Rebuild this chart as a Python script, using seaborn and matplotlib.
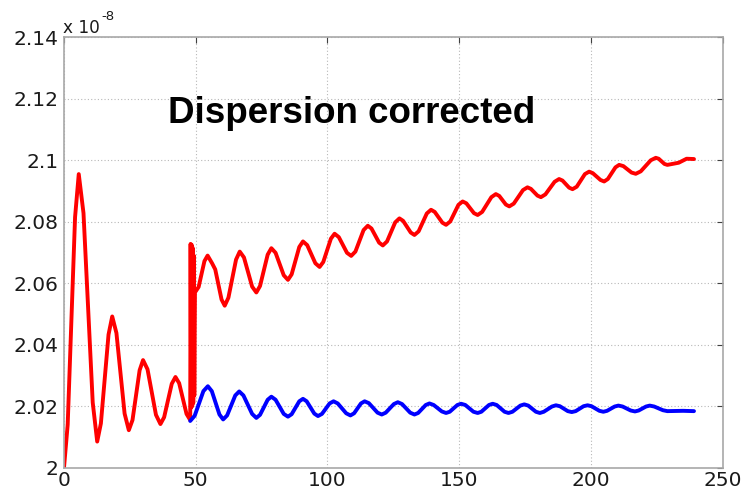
import pandas as pd
import matplotlib
matplotlib.use("Agg")
import matplotlib.pyplot as plt
from matplotlib.ticker import FormatStrFormatter, FixedLocator
import seaborn as sns

# Values are in units of 1e-8 (shown by the axis multiplier label)
red_x = [0, 1.4, 4.2, 5.6, 7.4, 10.9, 12.6, 14.0, 16.9, 18.3, 19.9, 23.0,
         24.6, 26.0, 28.7, 30.0, 31.7, 34.9, 36.6, 38.0, 40.9, 42.3, 43.7, 46.5,
         47.9, 48.05, 48.25, 48.45, 48.65, 48.85, 49.05, 49.25, 49.45, 49.7,
         51.1, 53.3, 54.5, 56.2, 57.4, 59.8, 61.0, 62.4, 65.3, 66.7, 68.3, 71.4,
         73.0, 74.4, 77.3, 78.7, 80.3, 83.4, 85.0, 86.4, 89.3, 90.7, 92.3, 95.4,
         97.0, 98.4, 101.3, 102.7, 104.3, 107.4, 109.0, 110.6, 113.7, 115.3,
         116.7, 119.6, 121.0, 122.6, 125.7, 127.3, 128.7, 131.6, 133.0, 134.6,
         137.7, 139.3, 140.7, 143.6, 145.0, 146.6, 149.7, 151.3, 152.7, 155.6,
         157.0, 158.7, 162.2, 163.9, 165.2, 167.7, 169.0, 170.7, 174.2, 175.9,
         177.2, 179.7, 181.0, 182.7, 186.2, 187.9, 189.2, 191.7, 193.0, 194.6,
         197.7, 199.3, 200.7, 203.6, 205.0, 206.4, 209.3, 210.7, 212.3, 215.4,
         217.0, 218.9, 222.7, 224.6, 225.7, 227.9, 229.0, 233.3, 236.3, 239.1]
red_y = [2.0000, 2.0140, 2.0815, 2.0955, 2.0828, 2.0212, 2.0085, 2.0144, 2.0433,
         2.0492, 2.0438, 2.0176, 2.0122, 2.0155, 2.0317, 2.0350, 2.0320, 2.0172,
         2.0142, 2.0164, 2.0273, 2.0295, 2.0275, 2.0175,
         2.0155, 2.0728, 2.0195, 2.0725, 2.0200, 2.0715, 2.0210, 2.0690, 2.0235,
         2.0570,
         2.0588, 2.0672, 2.0690, 2.0665, 2.0645, 2.0547, 2.0527, 2.0553, 2.0677,
         2.0703, 2.0684, 2.0589, 2.0570, 2.0591, 2.0693, 2.0714, 2.0699, 2.0626,
         2.0611, 2.0629, 2.0718, 2.0736, 2.0724, 2.0665, 2.0653, 2.0669, 2.0745,
         2.0761, 2.0750, 2.0699, 2.0689, 2.0703, 2.0773, 2.0787, 2.0778, 2.0732,
         2.0723, 2.0736, 2.0798, 2.0811, 2.0803, 2.0765, 2.0757, 2.0769, 2.0827,
         2.0839, 2.0832, 2.0797, 2.0790, 2.0801, 2.0855, 2.0866, 2.0860, 2.0828,
         2.0822, 2.0832, 2.0880, 2.0890, 2.0884, 2.0856, 2.0850, 2.0859, 2.0903,
         2.0912, 2.0907, 2.0885, 2.0880, 2.0889, 2.0930, 2.0939, 2.0934, 2.0911,
         2.0906, 2.0914, 2.0955, 2.0963, 2.0958, 2.0936, 2.0931, 2.0939, 2.0977,
         2.0985, 2.0981, 2.0960, 2.0956, 2.0964, 2.1000, 2.1008, 2.1005, 2.0988,
         2.0985, 2.0992, 2.1005, 2.1004]

blue_x = [47.9, 49.6, 52.9, 54.6, 56.1, 59.0, 60.4, 61.9, 65.0, 66.5, 68.1, 71.4,
          73.0, 74.4, 77.3, 78.7, 80.3, 83.4, 85.0, 86.4, 89.3, 90.7, 92.1, 95.0,
          96.4, 97.9, 100.8, 102.3, 103.9, 107.1, 108.7, 110.1, 112.7, 114.1,
          115.7, 119.0, 120.6, 122.1, 125.2, 126.7, 128.3, 131.4, 133.0, 134.4,
          137.3, 138.7, 140.3, 143.4, 145.0, 146.4, 149.3, 150.7, 152.3, 155.4,
          157.0, 158.4, 161.3, 162.7, 164.2, 167.2, 168.7, 170.2, 173.2, 174.7,
          176.2, 179.1, 180.6, 182.1, 185.2, 186.7, 188.2, 191.2, 192.7, 194.2,
          197.2, 198.7, 200.2, 203.2, 204.7, 206.1, 209.0, 210.4, 212.0, 215.1,
          216.7, 218.1, 220.9, 222.3, 224.0, 227.3, 229.0, 235.0, 239.1]
blue_y = [2.0152, 2.0169, 2.0249, 2.0265, 2.0249, 2.0173, 2.0157, 2.0170, 2.0235,
          2.0248, 2.0235, 2.0175, 2.0162, 2.0172, 2.0221, 2.0231, 2.0221, 2.0175,
          2.0166, 2.0174, 2.0216, 2.0224, 2.0216, 2.0176, 2.0168, 2.0175, 2.0209,
          2.0216, 2.0209, 2.0177, 2.0170, 2.0177, 2.0209, 2.0216, 2.0210, 2.0179,
          2.0173, 2.0179, 2.0207, 2.0213, 2.0207, 2.0179, 2.0173, 2.0178, 2.0204,
          2.0209, 2.0204, 2.0183, 2.0178, 2.0182, 2.0204, 2.0208, 2.0204, 2.0182,
          2.0178, 2.0182, 2.0204, 2.0208, 2.0204, 2.0182, 2.0178, 2.0182, 2.0202,
          2.0206, 2.0202, 2.0182, 2.0178, 2.0182, 2.0199, 2.0203, 2.0200, 2.0184,
          2.0181, 2.0184, 2.0200, 2.0203, 2.0200, 2.0185, 2.0182, 2.0185, 2.0199,
          2.0202, 2.0199, 2.0186, 2.0183, 2.0186, 2.0199, 2.0202, 2.0199, 2.0187,
          2.0184, 2.0185, 2.0184]

x_ticks = [0, 50, 100, 150, 200, 250]
y_ticks = [2.0, 2.02, 2.04, 2.06, 2.08, 2.1, 2.12, 2.14]

title_text = "Dispersion corrected"

sns.set_theme(style="white")
plt.rcParams["font.family"] = ["DejaVu Sans"]
# keep the fast back-and-forth strokes of the jump as drawn
plt.rcParams["path.simplify"] = False

df = pd.concat([
    pd.DataFrame({"x": red_x, "v": red_y, "series": "red"}),
    pd.DataFrame({"x": blue_x, "v": blue_y, "series": "blue"}),
], ignore_index=True)

fig = plt.figure(figsize=(7.49, 4.90), dpi=100)
ax = fig.add_axes([64 / 749, 22.3 / 490, 658.7 / 749, 430.4 / 490])

sns.lineplot(data=df, x="x", y="v", hue="series",
             palette={"red": "#ff0000", "blue": "#0000ff"},
             hue_order=["red", "blue"], estimator=None, sort=False,
             linewidth=2.8, legend=False, ax=ax)
for line in ax.get_lines():
    line.set_solid_joinstyle("round")
    line.set_solid_capstyle("round")

ax.set_xlim(0, 250)
ax.set_ylim(2.0, 2.14)
ax.xaxis.set_major_locator(FixedLocator(x_ticks))
ax.yaxis.set_major_locator(FixedLocator(y_ticks))
ax.xaxis.set_major_formatter(FormatStrFormatter("%g"))
ax.yaxis.set_major_formatter(FormatStrFormatter("%g"))
ax.set_xlabel("")
ax.set_ylabel("")

ax.grid(True, linestyle=(0, (1, 2)), color="#b8b8b8", linewidth=0.8)
for sp in ax.spines.values():
    sp.set_visible(True)
    sp.set_color("#a8a8a8")
    sp.set_linewidth(1.2)

ax.tick_params(axis="both", which="major", direction="in", length=4,
               width=0.8, color="#404040", labelsize=14.5, labelcolor="#1a1a1a",
               top=True, right=True)
ax.tick_params(axis="y", pad=4)
ax.tick_params(axis="x", pad=2.5)

ax.text(0.436, 0.802, title_text, transform=ax.transAxes, ha="center",
        va="baseline", fontsize=26.5, fontweight="bold",
        family=["Liberation Sans", "DejaVu Sans"], color="black")

# axis multiplier
fig.text(63 / 749, (490 - 33.3) / 490, "x 10", ha="left", va="baseline",
         fontsize=12.2, color="#1a1a1a")
fig.text(101.5 / 749, (490 - 20.5) / 490, "-8", ha="left", va="baseline",
         fontsize=9.5, color="#1a1a1a")

fig.savefig("out.png", dpi=100, facecolor="white")
